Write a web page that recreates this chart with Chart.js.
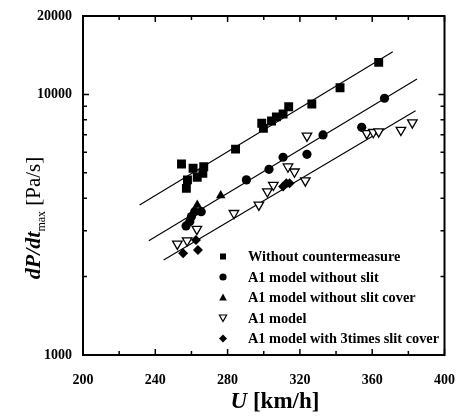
<!DOCTYPE html>
<html>
<head>
<meta charset="utf-8">
<title>dP/dt max vs U</title>
<script src="https://cdn.jsdelivr.net/npm/chart.js"></script>
<style>
  body { margin: 0; background: #fff; }
  #wrap { width: 464px; height: 417px; }
</style>
</head>
<body>
<div id="wrap"><canvas id="myChart" width="464" height="417"></canvas></div>
<script>
// datos (U en km/h, dP/dt max en Pa/s)
const sinContraU = [254.5, 257.2, 257.8, 260.9, 263.2, 266.3, 266.8, 284.4, 298.9, 299.8, 304.3, 307, 310.7, 313.8, 326.6, 342.2, 363.6];
const sinContraV = [5410, 4360, 4700, 5210, 4810, 4980, 5280, 6170, 7750, 7410, 7910, 8200, 8410, 8970, 9190, 10610, 13280];

const sinRanuraU = [257, 259.1, 260, 261.8, 265.4, 290.4, 302.9, 310.7, 323.9, 332.8, 354.2, 366.8];
const sinRanuraV = [3130, 3250, 3400, 3550, 3550, 4700, 5160, 5740, 5890, 6990, 7480, 9670];

const sinCubiertaU = [263.2, 276.2];
const sinCubiertaV = [3765, 4090];

const a1U = [252.2, 257.6, 263, 283.5, 297.3, 302, 305.3, 313.4, 317, 323, 323.9, 357, 360.6, 363.6, 375.9, 382.2];
const a1V = [2670, 2750, 3040, 3500, 3770, 4240, 4490, 5280, 5050, 4670, 6930, 7090, 7160, 7200, 7300, 7790];

const tresVecesU = [255.4, 262.5, 263.6, 310.7, 312.5, 314.3];
const tresVecesV = [2460, 2760, 2530, 4430, 4560, 4560];

// rectas de ajuste (extremos)
const recta1U = [231.3, 371.4];
const recta1V = [3765, 14590];
const recta2U = [236.4, 384.8];
const recta2V = [2746, 11470];
const recta3U = [244.6, 384];
const recta3V = [2315, 8660];

const etiquetas = [
    "Without countermeasure",
    "A1 model without slit",
    "A1 model without slit cover",
    "A1 model",
    "A1 model with 3times slit cover"
];

const xTicks = [200, 240, 280, 320, 360, 400];
const xMinor = [220, 260, 300, 340, 380];
const yTicks = [1000, 10000, 20000];
const yMinor = [2000, 3000, 4000, 5000, 6000, 7000, 8000, 9000];

const grafica = document.getElementById('myChart').getContext('2d');

function puntos(us, vs) {
    return us.map((u, i) => ({ x: u, y: vs[i] }));
}

function recta(us, vs) {
    return {
        type: 'line',
        data: puntos(us, vs),
        borderColor: '#000',
        borderWidth: 1.1,
        pointRadius: 0,
        fill: false,
        showLine: true
    };
}

const fuenteSerif = '"Liberation Serif", "Times New Roman", serif';

// marcador para la leyenda
function marcador(ctx, tipo, x, y) {
    ctx.save();
    ctx.fillStyle = '#000';
    ctx.strokeStyle = '#000';
    ctx.lineWidth = 1.2;
    ctx.beginPath();
    if (tipo === 'rect') {
        ctx.rect(x - 3, y - 3, 6, 6);
        ctx.fill();
    } else if (tipo === 'circle') {
        ctx.arc(x, y, 3.6, 0, Math.PI * 2);
        ctx.fill();
    } else if (tipo === 'triangle') {
        ctx.moveTo(x, y - 4);
        ctx.lineTo(x + 3.8, y + 3);
        ctx.lineTo(x - 3.8, y + 3);
        ctx.closePath();
        ctx.fill();
    } else if (tipo === 'down') {
        ctx.moveTo(x - 3.6, y - 3);
        ctx.lineTo(x + 3.6, y - 3);
        ctx.lineTo(x, y + 3.6);
        ctx.closePath();
        ctx.fillStyle = '#fff';
        ctx.fill();
        ctx.stroke();
    } else {
        ctx.moveTo(x, y - 4);
        ctx.lineTo(x + 4, y);
        ctx.lineTo(x, y + 4);
        ctx.lineTo(x - 4, y);
        ctx.closePath();
        ctx.fill();
    }
    ctx.restore();
}

const marcoPlugin = {
    id: 'marco',
    afterDraw(chart) {
        const ctx = chart.ctx;
        const a = chart.chartArea;
        const sx = chart.scales.x;
        const sy = chart.scales.y;
        ctx.save();
        ctx.strokeStyle = '#000';
        ctx.lineWidth = 2;
        ctx.strokeRect(a.left, a.top, a.right - a.left, a.bottom - a.top);

        // ticks hacia adentro
        ctx.lineWidth = 1.5;
        ctx.beginPath();
        xTicks.concat(xMinor).forEach(v => {
            const px = sx.getPixelForValue(v);
            const len = xTicks.includes(v) ? 6 : 4;
            ctx.moveTo(px, a.bottom); ctx.lineTo(px, a.bottom - len);
            ctx.moveTo(px, a.top); ctx.lineTo(px, a.top + len);
        });
        yTicks.concat(yMinor).forEach(v => {
            const py = sy.getPixelForValue(v);
            const len = yTicks.includes(v) ? 6 : 4;
            ctx.moveTo(a.left, py); ctx.lineTo(a.left + len, py);
            ctx.moveTo(a.right, py); ctx.lineTo(a.right - len, py);
        });
        ctx.stroke();

        // leyenda
        const tipos = ['rect', 'circle', 'triangle', 'down', 'diamond'];
        ctx.font = 'bold 14.3px ' + fuenteSerif;
        ctx.fillStyle = '#000';
        ctx.textBaseline = 'middle';
        ctx.textAlign = 'left';
        etiquetas.forEach((t, i) => {
            const y = 256.5 + i * 20.5;
            marcador(ctx, tipos[i], 223, y);
            ctx.fillText(t, 248, y + 1);
        });

        // titulo eje x: U [km/h]
        ctx.textBaseline = 'alphabetic';
        ctx.font = 'bold italic 23px ' + fuenteSerif;
        const w1 = ctx.measureText('U').width;
        ctx.font = 'bold 23px ' + fuenteSerif;
        const w2 = ctx.measureText(' [km/h]').width;
        let x0 = 275 - (w1 + w2) / 2;
        ctx.font = 'bold italic 23px ' + fuenteSerif;
        ctx.fillText('U', x0, 408);
        ctx.font = 'bold 23px ' + fuenteSerif;
        ctx.fillText(' [km/h]', x0 + w1, 408);

        // titulo eje y: dP/dt max [Pa/s]
        ctx.translate(40, 218);
        ctx.rotate(-Math.PI / 2);
        ctx.font = 'bold italic 22px ' + fuenteSerif;
        const a1 = ctx.measureText('dP/dt').width;
        ctx.font = '12px ' + fuenteSerif;
        const a2 = ctx.measureText('max').width;
        ctx.font = '21px ' + fuenteSerif;
        const a3 = ctx.measureText(' [Pa/s]').width;
        let y0 = -(a1 + a2 + a3) / 2;
        ctx.font = 'bold italic 22px ' + fuenteSerif;
        ctx.fillText('dP/dt', y0, 0);
        ctx.font = '12px ' + fuenteSerif;
        ctx.fillText('max', y0 + a1, 5);
        ctx.font = '21px ' + fuenteSerif;
        ctx.fillText(' [Pa/s]', y0 + a1 + a2, 0);
        ctx.restore();
    }
};

const myChart = new Chart(grafica, {
    type: 'scatter',
    data: {
        datasets: [
            {
                label: etiquetas[0],
                data: puntos(sinContraU, sinContraV),
                pointStyle: 'rect',
                pointRadius: 6.3,
                backgroundColor: '#000',
                borderColor: '#000',
                borderWidth: 0
            },
            {
                label: etiquetas[1],
                data: puntos(sinRanuraU, sinRanuraV),
                pointStyle: 'circle',
                pointRadius: 4.6,
                backgroundColor: '#000',
                borderColor: '#000',
                borderWidth: 0
            },
            {
                label: etiquetas[2],
                data: puntos(sinCubiertaU, sinCubiertaV),
                pointStyle: 'triangle',
                pointRadius: 5.5,
                backgroundColor: '#000',
                borderColor: '#000',
                borderWidth: 0
            },
            {
                label: etiquetas[3],
                data: puntos(a1U, a1V),
                pointStyle: 'triangle',
                rotation: 180,
                pointRadius: 5.5,
                backgroundColor: '#fff',
                borderColor: '#000',
                borderWidth: 1.3
            },
            {
                label: etiquetas[4],
                data: puntos(tresVecesU, tresVecesV),
                pointStyle: 'rectRot',
                pointRadius: 5,
                backgroundColor: '#000',
                borderColor: '#000',
                borderWidth: 0
            },
            recta(recta1U, recta1V),
            recta(recta2U, recta2V),
            recta(recta3U, recta3V)
        ]
    },
    options: {
        responsive: false,
        animation: false,
        layout: { padding: { top: 16, right: 13, left: 0, bottom: 0 } },
        plugins: {
            legend: { display: false },
            tooltip: { enabled: false }
        },
        scales: {
            x: {
                type: 'linear',
                min: 200,
                max: 400,
                grid: { display: false },
                border: { display: false },
                afterBuildTicks: (s) => { s.ticks = xTicks.map(v => ({ value: v })); },
                afterFit: (s) => { s.height = 62; },
                ticks: {
                    padding: 9,
                    color: '#000',
                    maxRotation: 0,
                    font: { family: fuenteSerif, size: 14, weight: 'bold' }
                }
            },
            y: {
                type: 'logarithmic',
                min: 1000,
                max: 20000,
                grid: { display: false },
                border: { display: false },
                afterBuildTicks: (s) => { s.ticks = yTicks.map(v => ({ value: v })); },
                afterFit: (s) => { s.width = 83; },
                ticks: {
                    padding: 3,
                    color: '#000',
                    font: { family: fuenteSerif, size: 14, weight: 'bold' },
                    callback: (v) => String(v)
                }
            }
        }
    },
    plugins: [marcoPlugin]
});
</script>
</body>
</html>
